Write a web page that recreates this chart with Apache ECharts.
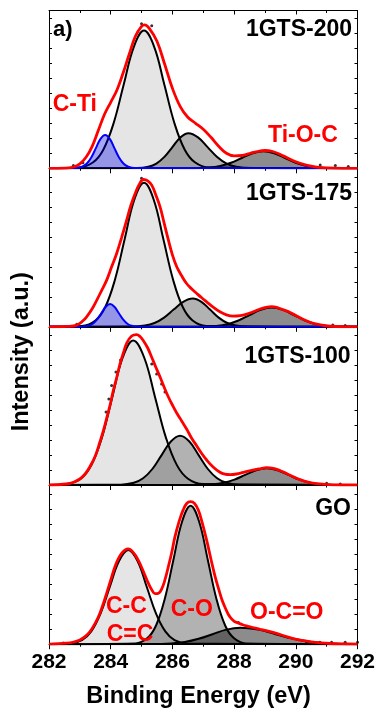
<!DOCTYPE html>
<html>
<head>
<meta charset="utf-8">
<script src="https://cdn.jsdelivr.net/npm/echarts/dist/echarts.min.js"></script>
<style>
  html, body { margin: 0; padding: 0; background: #fff; }
  #chart { width: 378px; height: 709px; }
</style>
</head>
<body>
<div id="chart"></div>
<script>
// binding energy range (eV) and tick labels
const energyMin = 282;
const energyMax = 292;
const energyTicks = [282, 284, 286, 288, 290, 292];

const panelNames = ['1GTS-200', '1GTS-175', '1GTS-100', 'GO'];

// intensities are in a.u. ([binding energy, intensity])
// --- 1GTS-200 ---
const gts200Main = [[282,0],[282.97,0.8],[283.43,6.0],[283.76,18.6],[284.09,44.7],[284.42,83.5],[284.75,121.5],[285.08,137.7],[285.41,121.5],[285.74,83.5],[286.07,44.7],[286.40,18.6],[286.73,6.0],[287.19,0.8],[292,0]];
const gts200CTi = [[282,0],[282.86,0.2],[283.07,1.5],[283.22,4.5],[283.37,10.8],[283.52,20.2],[283.67,29.4],[283.82,33.3],[283.97,29.4],[284.12,20.2],[284.27,10.8],[284.42,4.5],[284.57,1.5],[284.78,0.2],[292,0]];
const gts200CO = [[282,0],[284.86,0.2],[285.22,1.5],[285.48,4.7],[285.74,11.4],[286.0,21.2],[286.26,30.9],[286.52,35],[286.83,30.9],[287.14,21.2],[287.45,11.4],[287.76,4.7],[288.07,1.5],[288.50,0.2],[292,0]];
const gts200TiOC = [[282,0],[286.71,0.1],[287.2,0.7],[287.55,2.3],[287.9,5.5],[288.25,10.3],[288.6,15],[288.95,17],[289.3,15],[289.65,10.3],[290.0,5.5],[290.35,2.3],[290.7,0.7],[291.19,0.1],[292,0]];
const gts200Envelope = [[282,0],[282.5,0.2],[282.8,1.3],[283.0,4.5],[283.2,11],[283.4,22],[283.6,38],[283.8,54],[284.0,66],[284.2,78],[284.4,95],[284.6,114],[284.8,132],[285.0,142],[285.1,143.5],[285.25,140],[285.5,127],[285.75,104],[286.0,80],[286.25,62],[286.5,51],[286.75,45],[287.0,39],[287.25,31],[287.5,22],[287.75,15],[288.0,12.5],[288.25,12.8],[288.5,14.8],[288.75,16.8],[289.0,17.8],[289.25,16.8],[289.5,13.8],[289.75,10],[290.0,6.5],[290.25,4],[290.5,2.2],[290.75,1],[291.0,0.4],[291.5,0],[292,0]];
const gts200Data = [[282.79,2.7],[283.1,5.5],[285.0,144.5],[285.33,142.5],[290.79,3.3],[291.28,2.7],[291.7,1.7]];

// --- 1GTS-175 ---
const gts175Main = [[282,0],[283.06,0.9],[283.505,6.3],[283.82,19.5],[284.135,46.8],[284.45,87.3],[284.765,127.1],[285.08,144],[285.395,127.1],[285.71,87.3],[286.025,46.8],[286.34,19.5],[286.655,6.3],[287.1,0.9],[292,0]];
const gts175CTi = [[282,0],[283.08,0.1],[283.28,1.0],[283.42,3.1],[283.56,7.4],[283.70,13.8],[283.84,20.0],[283.98,22.7],[284.12,20.0],[284.26,13.8],[284.40,7.4],[284.54,3.1],[284.68,1.0],[284.88,0.1],[292,0]];
const gts175CO = [[282,0],[284.68,0.2],[285.11,1.2],[285.42,3.8],[285.73,9.2],[286.04,17.2],[286.35,25.0],[286.66,28.3],[286.94,25.0],[287.22,17.2],[287.5,9.2],[287.78,3.8],[288.06,1.2],[288.45,0.2],[292,0]];
const gts175TiOC = [[282,0],[286.92,0.1],[287.42,0.85],[287.78,2.6],[288.14,6.3],[288.5,11.7],[288.86,17.0],[289.22,19.3],[289.58,17.0],[289.94,11.7],[290.3,6.3],[290.66,2.6],[291.02,0.85],[291.52,0.1],[292,0]];
const gts175Envelope = [[282,0],[282.6,0.4],[282.9,1.7],[283.1,6],[283.22,10],[283.4,18],[283.55,26.7],[283.7,36],[283.87,46.7],[284.03,60],[284.19,73],[284.35,89],[284.52,107],[284.65,121],[284.79,133],[284.92,142],[285.06,147.3],[285.2,146],[285.33,141.7],[285.46,132],[285.6,120],[285.73,104],[285.87,86.7],[286.0,72],[286.14,60],[286.3,51],[286.46,43.3],[286.62,38],[286.79,33.3],[286.95,29],[287.11,25],[287.33,19.5],[287.54,15],[287.75,12],[287.97,10.7],[288.2,11.2],[288.41,12.7],[288.62,15],[288.84,17.8],[289.03,19.5],[289.22,20.2],[289.4,19.2],[289.6,16.9],[289.8,14.5],[290.03,10.8],[290.25,7.3],[290.46,4.6],[290.68,2.6],[290.9,1.3],[291.3,0.3],[292,0]];
const gts175Data = [[282.9,2.5],[285.0,148.5],[291.2,1.7],[291.6,1.3]];

// --- 1GTS-100 ---
const gts100Main = [[282,0],[282.55,0.9],[283.03,6.3],[283.37,19.6],[283.71,46.9],[284.05,87.6],[284.39,127.5],[284.73,144.5],[285.085,127.5],[285.44,87.6],[285.795,46.9],[286.15,19.6],[286.505,6.3],[287.0,0.9],[292,0]];
const gts100CO = [[282,0],[284.33,0.3],[284.75,2.2],[285.05,6.7],[285.35,16.0],[285.65,29.9],[285.95,43.5],[286.25,49.3],[286.55,43.5],[286.85,29.9],[287.15,16.0],[287.45,6.7],[287.75,2.2],[288.17,0.3],[292,0]];
const gts100OCO = [[282,0],[286.82,0.1],[287.31,0.7],[287.66,2.3],[288.01,5.4],[288.36,10.1],[288.71,14.7],[289.06,16.7],[289.41,14.7],[289.76,10.1],[290.11,5.4],[290.46,2.3],[290.81,0.7],[291.3,0.1],[292,0]];
const gts100Envelope = [[282,0],[282.57,1],[282.8,2.8],[283.0,6],[283.17,11],[283.33,18.5],[283.5,29],[283.65,43],[283.76,54],[283.87,67],[283.98,80],[284.08,94],[284.19,107],[284.3,121],[284.41,132],[284.52,142],[284.68,149],[284.84,150.3],[284.95,148.5],[285.06,144.3],[285.2,137],[285.33,127.7],[285.46,118],[285.6,108],[285.73,98],[285.87,88],[286.0,80],[286.14,72],[286.3,64],[286.46,56],[286.62,47],[286.79,39],[286.95,31.5],[287.11,25],[287.32,18],[287.54,12.7],[287.7,10.8],[287.87,10.3],[288.08,11],[288.3,12.7],[288.57,14.6],[288.84,16.2],[289.05,17.3],[289.27,16.6],[289.5,14.3],[289.7,11.5],[289.92,8.3],[290.14,5.4],[290.4,2.9],[290.68,1.3],[291.2,0.2],[292,0]];
const gts100Data = [[283.85,73],[283.94,86],[284.03,99.5],[284.17,113],[284.32,125],[285.33,121],[285.49,111],[285.65,101],[285.76,93],[291.0,1.7],[291.44,1]];

// --- GO ---
const goCC = [[282,0],[282.65,0.6],[283.07,4.1],[283.37,12.8],[283.67,30.6],[283.97,57.2],[284.27,83.2],[284.57,94.3],[284.87,83.2],[285.17,57.2],[285.47,30.6],[285.77,12.8],[286.07,4.1],[286.49,0.6],[292,0]];
const goCO = [[282,0],[284.8,0.8],[285.19,6.1],[285.47,18.7],[285.75,45],[286.03,84],[286.31,122.2],[286.59,138.5],[286.87,122.2],[287.15,84],[287.43,45],[287.71,18.7],[287.99,6.1],[288.38,0.8],[292,0]];
const goOCO = [[282,0],[285.32,0.1],[285.95,0.7],[286.4,2.2],[286.85,5.4],[287.3,10.0],[287.75,14.6],[288.2,16.5],[288.775,14.6],[289.35,10.0],[289.925,5.4],[290.5,2.2],[291.075,0.7],[291.88,0.1],[292,0]];
const goEnvelope = [[282,0],[282.57,1],[282.8,2.2],[283.0,4.3],[283.17,7.5],[283.33,12.7],[283.5,21],[283.65,31],[283.76,40.5],[283.87,51],[284.0,64],[284.14,77.7],[284.25,85.5],[284.36,91],[284.47,94.3],[284.57,95.3],[284.68,93.5],[284.79,89.3],[284.9,83.5],[285.0,77],[285.11,69],[285.22,61],[285.33,54.5],[285.44,50.5],[285.55,51],[285.65,55],[285.76,64.5],[285.87,77.7],[285.98,92],[286.08,107],[286.22,123],[286.35,134.3],[286.47,141],[286.59,142.5],[286.71,141],[286.84,134.3],[286.97,121],[287.11,104],[287.25,85],[287.38,68],[287.5,55],[287.6,45],[287.71,36.5],[287.81,30],[287.91,25.5],[288.0,23],[288.15,21],[288.3,19.2],[288.45,17.9],[288.6,16.7],[288.85,14.8],[289.1,13],[289.4,10.5],[289.7,7.6],[289.95,5.4],[290.2,3.8],[290.5,2.3],[290.8,1.3],[291.1,0.7],[291.5,0.3],[292,0]];
const goData = [[282.46,1.3],[282.9,2],[288.14,21.6],[290.35,2],[290.78,2],[291.16,2],[291.6,2],[292.0,2]];

const FONT = '"Liberation Sans", Arial, sans-serif';
const LIGHT = 'rgba(0,0,0,0.1)';
const MID = 'rgba(0,0,0,0.3)';
const DARK = 'rgba(0,0,0,0.45)';
const BLUE_FILL = 'rgba(0,0,235,0.35)';

// panel frames (px)
const panels = [
  { top: 10.5, height: 157.8 },
  { top: 168.3, height: 158.5 },
  { top: 326.8, height: 158.2 },
  { top: 485, height: 159.2 }
];

const chart = echarts.init(document.getElementById('chart'), null, { renderer: 'canvas' });

const grids = panels.map(p => ({
  left: 49, width: 308.5, top: p.top, height: p.height,
  containLabel: false, outerBoundsMode: 'none'
}));

const xAxes = panels.map((p, i) => ({
  type: 'value', gridIndex: i, position: 'bottom',
  min: energyMin, max: energyMax, interval: 2,
  axisLine: { show: true, onZero: false, lineStyle: { color: '#000', width: 1 } },
  axisTick: { show: true, inside: false, length: 5, lineStyle: { color: '#000' } },
  minorTick: { show: true, splitNumber: 2, length: 2.5, lineStyle: { color: '#000' } },
  splitLine: { show: false },
  axisLabel: {
    show: i === 3, margin: 8, color: '#000', fontSize: 21, fontWeight: 'bold', fontFamily: FONT,
    formatter: v => (energyTicks.includes(v) ? String(v) : '')
  }
}));
// top frame of the first panel
xAxes.push({
  type: 'value', gridIndex: 0, position: 'top',
  min: energyMin, max: energyMax, interval: 2,
  axisLine: { show: true, onZero: false, lineStyle: { color: '#000', width: 1 } },
  axisTick: { show: true, inside: true, length: 4, lineStyle: { color: '#000' } },
  minorTick: { show: true, splitNumber: 2, length: 2.5, lineStyle: { color: '#000' } },
  splitLine: { show: false },
  axisLabel: { show: false }
});

const yAxes = [];
panels.forEach((p, i) => {
  ['left', 'right'].forEach(pos => {
    yAxes.push({
      type: 'value', gridIndex: i, position: pos,
      min: 0, max: p.height, interval: 15,
      axisLine: { show: true, onZero: false, lineStyle: { color: '#000', width: 1 } },
      axisTick: { show: true, inside: true, length: 3, lineStyle: { color: '#000' } },
      splitLine: { show: false },
      axisLabel: { show: false }
    });
  });
});

function peak(i, data, fill, stroke, z) {
  return {
    type: 'line', xAxisIndex: i, yAxisIndex: i * 2, data: data,
    smooth: 0.4, symbol: 'none', silent: true, z: z,
    lineStyle: { color: stroke, width: 2 },
    areaStyle: fill ? { color: fill, origin: 'start', opacity: 1 } : undefined
  };
}

function points(i, data) {
  return {
    type: 'scatter', xAxisIndex: i, yAxisIndex: i * 2, data: data,
    symbol: 'circle', symbolSize: 3, silent: true, z: 5,
    itemStyle: { color: '#000' }
  };
}

const series = [
  peak(0, gts200Main, LIGHT, '#000', 2),
  peak(0, gts200CO, MID, '#000', 3),
  peak(0, gts200TiOC, DARK, '#000', 4),
  peak(0, gts200CTi, BLUE_FILL, '#0000ff', 5),
  points(0, gts200Data),
  peak(0, gts200Envelope, null, '#ff0000', 6),

  peak(1, gts175Main, LIGHT, '#000', 2),
  peak(1, gts175CO, MID, '#000', 3),
  peak(1, gts175TiOC, DARK, '#000', 4),
  peak(1, gts175CTi, BLUE_FILL, '#0000ff', 5),
  points(1, gts175Data),
  peak(1, gts175Envelope, null, '#ff0000', 6),

  peak(2, gts100Main, LIGHT, '#000', 2),
  peak(2, gts100CO, MID, '#000', 3),
  peak(2, gts100OCO, DARK, '#000', 4),
  points(2, gts100Data),
  peak(2, gts100Envelope, null, '#ff0000', 6),

  peak(3, goCC, LIGHT, '#000', 2),
  peak(3, goCO, MID, '#000', 3),
  peak(3, goOCO, DARK, '#000', 4),
  points(3, goData),
  peak(3, goEnvelope, null, '#ff0000', 6)
];
series.forEach(s => { if (s.lineStyle && s.lineStyle.color === '#ff0000') s.lineStyle.width = 2.8; });

function label(text, x, y, color, align, size, extra) {
  return Object.assign({
    type: 'text', x: x, y: y, z: 100,
    style: {
      text: text, fill: color, font: 'bold ' + (size || 23) + 'px ' + FONT,
      textAlign: align, align: align, textVerticalAlign: 'middle', verticalAlign: 'middle'
    }
  }, extra || {});
}

const graphics = [
  label('a)', 53, 29.5, '#000', 'left', 22),
  label(panelNames[0], 352, 29.2, '#000', 'right'),
  label(panelNames[1], 352, 194, '#000', 'right'),
  label(panelNames[2], 350.5, 356.5, '#000', 'right'),
  label(panelNames[3], 351, 509, '#000', 'right'),
  label('C-Ti', 52.7, 105, '#ff0000', 'left'),
  label('Ti-O-C', 268, 136, '#ff0000', 'left'),
  label('C-C', 106, 606.5, '#ff0000', 'left'),
  label('C=C', 106.7, 634.5, '#ff0000', 'left'),
  label('C-O', 170.7, 610, '#ff0000', 'left'),
  label('O-C=O', 250, 613, '#ff0000', 'left'),
  label('Binding Energy (eV)', 198.5, 697, '#000', 'center', 23.5),
  label('Intensity (a.u.)', 22, 351.7, '#000', 'center', 23.5, { rotation: Math.PI / 2 })
];

const option = {
  animation: false,
  backgroundColor: '#fff',
  grid: grids,
  xAxis: xAxes,
  yAxis: yAxes,
  series: series,
  graphic: { elements: graphics }
};

chart.setOption(option);
</script>
</body>
</html>
